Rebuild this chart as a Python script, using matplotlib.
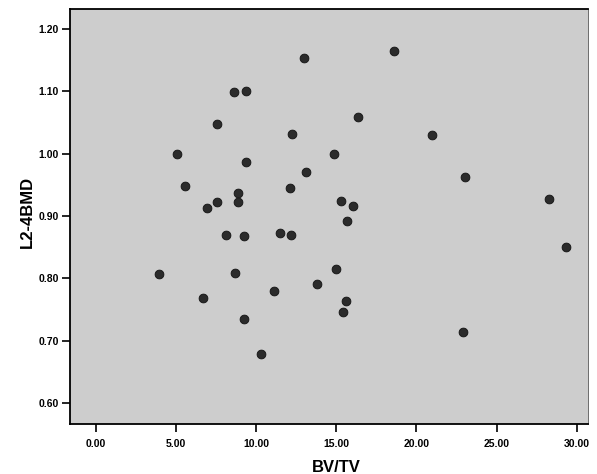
import matplotlib
matplotlib.use("Agg")
import matplotlib.pyplot as plt

bv_tv = [3.97, 5.08, 5.60, 6.95, 7.57, 7.57, 6.70, 8.16, 8.65, 9.36,
         8.87, 8.90, 9.36, 9.24, 8.68, 9.24, 10.32, 11.10, 11.50, 12.20,
         12.15, 12.25, 12.98, 13.12, 14.89, 16.37, 18.61, 20.96, 23.02, 28.29,
         15.29, 16.03, 15.66, 29.31, 14.99, 13.79, 15.60, 15.41, 22.89]
bmd = [0.806, 1.000, 0.948, 0.913, 0.923, 1.047, 0.768, 0.870, 1.098, 1.101,
       0.937, 0.923, 0.986, 0.867, 0.809, 0.734, 0.679, 0.779, 0.872, 0.869,
       0.944, 1.031, 1.153, 0.970, 1.000, 1.058, 1.164, 1.030, 0.962, 0.927,
       0.924, 0.916, 0.891, 0.850, 0.815, 0.791, 0.764, 0.746, 0.713]

x_ticks = [0, 5, 10, 15, 20, 25, 30]
y_ticks = [0.60, 0.70, 0.80, 0.90, 1.00, 1.10, 1.20]

plt.rcParams['font.family'] = ['Liberation Sans', 'DejaVu Sans']

fig = plt.figure(figsize=(5.97, 4.74), dpi=100)
ax = fig.add_axes([70/597, 50/474, 518/597, 415/474])
ax.set_facecolor('#cdcdcd')

ax.scatter(bv_tv, bmd, s=40, c='#2b2b2b', edgecolors='#111111', linewidths=0.6, zorder=3)

ax.set_xlim(-1.59, 30.7)
ax.set_ylim(0.566, 1.232)
ax.set_xticks(x_ticks)
ax.set_xticklabels([f"{v:.2f}" for v in x_ticks], fontsize=7.5, fontweight='bold')
ax.set_yticks(y_ticks)
ax.set_yticklabels([f"{v:.2f}" for v in y_ticks], fontsize=7.5, fontweight='bold')
ax.tick_params(axis='x', direction='out', length=6, width=1.2, pad=5)
ax.tick_params(axis='y', direction='out', length=6, width=1.2, pad=2)

for side in ['left', 'bottom', 'top']:
    ax.spines[side].set_linewidth(1.3)
    ax.spines[side].set_color('black')
ax.spines['right'].set_linewidth(0.6)
ax.spines['right'].set_color('#555555')

ax.set_xlabel('BV/TV', fontsize=12, fontweight='bold', va='center')
ax.xaxis.set_label_coords(0.515, -0.104)
ax.set_ylabel('L2-4BMD', fontsize=12, fontweight='bold', va='center')
ax.yaxis.set_label_coords(-0.083, 0.51)

fig.savefig('out.png', dpi=100)
